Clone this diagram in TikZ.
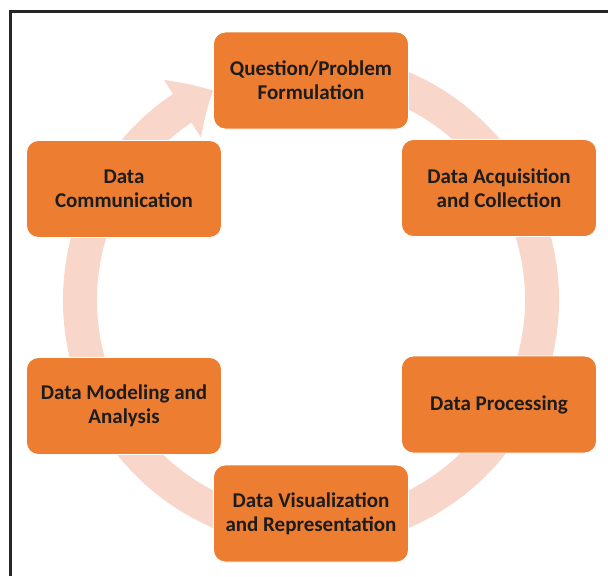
\documentclass[tikz,border=0pt]{standalone}
\usepackage{fontspec}
\setmainfont{Carlito}
\usetikzlibrary{arrows.meta,bending}

\definecolor{stageorange}{RGB}{237,125,49}
\definecolor{ringpink}{RGB}{248,214,202}
\definecolor{stagetext}{RGB}{28,28,28}

\begin{document}
\begin{tikzpicture}[x=1pt,y=1pt,
	stage/.style={rounded corners=12pt,fill=stageorange,draw=white,line width=0.8pt,
		minimum width=195pt,minimum height=97pt,align=center,text=stagetext,
		font=\fontsize{21}{24}\selectfont\bfseries}]

\useasboundingbox (0,0) rectangle (608,-576);

% frame (cut off at right and bottom)
\draw [line width=3pt,color=black!85] (608,-11) -- (10,-11) -- (10,-576);

% ring arrow behind the stages
\coordinate (ctr) at (311,-300);
\draw [ringpink,line width=34pt,-{Triangle[width=66pt,length=36pt,bend]}]
	([shift={(80:231)}]ctr) arc [start angle=80, end angle=-245, radius=231];

\node [stage] (q)     at (311, -80.5) {Question/Problem\\Formulation};
\node [stage] (acq)   at (499,-188)   {Data Acquisition\\and Collection};
\node [stage] (proc)  at (499,-404.5) {Data Processing};
\node [stage] (vis)   at (311,-513.5) {Data Visualization\\and Representation};
\node [stage] (model) at (124,-406)   {Data Modeling and\\Analysis};
\node [stage] (comm)  at (124,-189)   {Data\\Communication};

\end{tikzpicture}
\end{document}
